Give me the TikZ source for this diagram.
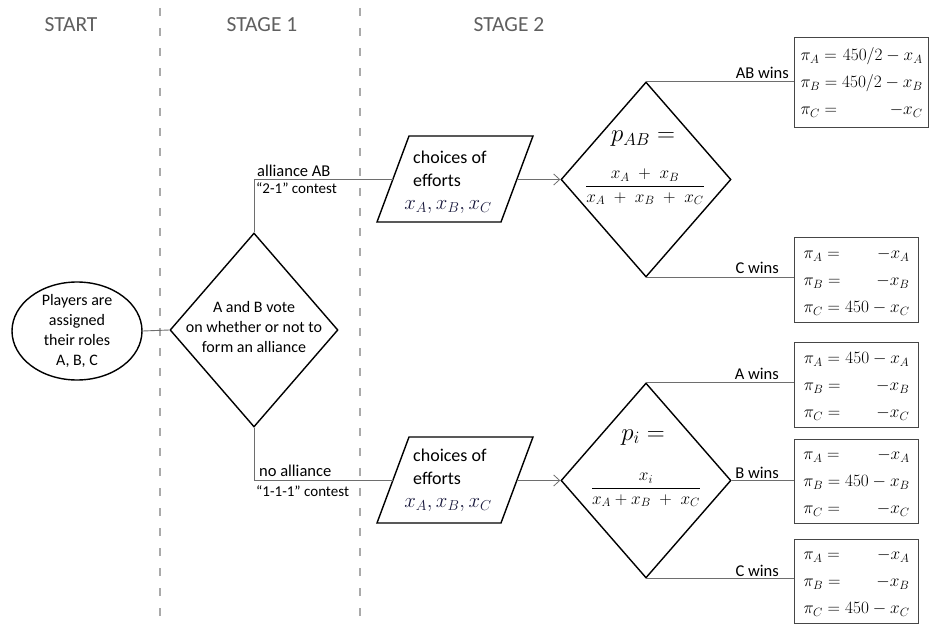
\documentclass[tikz,border=0pt]{standalone}
\usepackage{amsmath}
\usepackage{fontspec}
\setmainfont{Carlito}
\usetikzlibrary{shapes.geometric,arrows.meta}
\definecolor{stagegray}{RGB}{95,95,95}
\definecolor{dashgray}{RGB}{170,170,170}
\definecolor{linegray}{RGB}{110,110,110}
\definecolor{boxgray}{RGB}{70,70,70}
\definecolor{mathnavy}{RGB}{25,25,60}
\begin{document}
\begin{tikzpicture}[x=1pt,y=-1pt,
 stagelbl/.style={text=stagegray,font=\fontsize{21.5}{25}\selectfont,inner sep=0pt,anchor=base},
 divider/.style={draw=dashgray,line width=1.3pt,dash pattern=on 8pt off 12pt},
 outline/.style={draw=black,line width=1.4pt},
 conn/.style={draw=linegray,line width=0.9pt},
 arr/.style={conn,-{Straight Barb[length=6pt,width=11pt,line width=0.8pt]}},
 bodytxt/.style={font=\fontsize{16}{20}\selectfont,align=center,inner sep=0pt},
 partxt/.style={font=\fontsize{18}{23}\selectfont,inner sep=0pt,anchor=base west},
 edgelbl/.style={font=\fontsize{16.5}{19}\selectfont,inner sep=0pt},
 smalllbl/.style={font=\fontsize{15}{17}\selectfont,inner sep=0pt},
 paybox/.style={draw=boxgray,line width=1.1pt,inner xsep=6pt,inner ysep=0pt,anchor=north west,font=\fontsize{18}{27}\selectfont},
 decision/.style={diamond,outline,inner sep=0pt,minimum width=170,minimum height=195},
 parmath/.style={anchor=base,font=\fontsize{20}{24}\selectfont,text=mathnavy,inner sep=0pt},
 bigmath/.style={anchor=base,font=\fontsize{24}{28}\selectfont,inner sep=0pt},
 fracmath/.style={anchor=base,font=\fontsize{17}{20}\selectfont,inner sep=0pt}
]
\useasboundingbox (0,0) rectangle (938,626);
\clip (0,0) rectangle (938,626);

% stage headers and dividers
\node[stagelbl] (st0) at (71,32) {START};
\node[stagelbl] (st1) at (262,32) {STAGE 1};
\node[stagelbl] (st2) at (509,32) {STAGE 2};
\draw[divider] (160,8) -- (160,626);
\draw[divider] (360,8) -- (360,626);

% start
\node[ellipse,outline,minimum width=130,minimum height=98,inner sep=0pt] (start) at (77,331) {};
\node[bodytxt] (starttxt) at (77,331) {Players are\\assigned\\their roles\\A, B, C};

% stage 1 vote
\node[decision,minimum width=168,minimum height=194] (vote) at (254,330) {};
\node[bodytxt] (votetxt) at (254,327) {A and B vote\\on whether or not to\\form an alliance};

% parallelograms
\draw[outline] (377,222) -- (409,136) -- (533,136) -- (501,222) -- cycle;
\coordinate (par1w) at (393,179.5);
\coordinate (par1e) at (517,179.5);
\node[partxt] (par1a) at (413,163) {choices of};
\node[partxt] (par1b) at (413,186) {efforts};
\node[parmath] (par1m) at (448,209) {$x_A, x_B, x_C$};

\draw[outline] (377,523) -- (409,437) -- (533,437) -- (501,523) -- cycle;
\coordinate (par2w) at (393,480.5);
\coordinate (par2e) at (517,480.5);
\node[partxt] (par2a) at (413,461) {choices of};
\node[partxt] (par2b) at (413,484) {efforts};
\node[parmath] (par2m) at (448,507) {$x_A, x_B, x_C$};

% stage 2 decisions
\node[decision] (pab) at (646,179.5) {};
\node[bigmath] (pabeq) at (643,142) {$p_{AB} =$};
\node[fracmath] (pabfrac) at (645,190.5) {$\dfrac{x_A \;+\; x_B}{x_A \;+\; x_B \;+\; x_C}$};

\node[decision] (pi) at (646,480.5) {};
\node[bigmath] (pieq) at (643,440) {$p_i =$};
\node[fracmath] (pifrac) at (646,492.3) {$\dfrac{x_i}{x_A + x_B \;+\; x_C}$};

% payoff boxes
\node[paybox,minimum height=90] (ab1) at (794,37)
 {$\begin{array}{@{}l@{}r@{}}\pi_A ={} & 450/2-x_A\\ \pi_B ={} & 450/2-x_B\\ \pi_C ={} & -x_C\end{array}$};
\node[paybox,minimum width=124,minimum height=85] (ab2) at (794,237)
 {$\begin{array}{@{}l@{}r@{}}\pi_A ={} & -x_A\\ \pi_B ={} & -x_B\\ \pi_C ={} & 450-x_C\end{array}$};
\node[paybox,minimum width=124,minimum height=85] (c1) at (794,342)
 {$\begin{array}{@{}l@{}r@{}}\pi_A ={} & 450-x_A\\ \pi_B ={} & -x_B\\ \pi_C ={} & -x_C\end{array}$};
\node[paybox,minimum width=124,minimum height=84] (c2) at (794,439)
 {$\begin{array}{@{}l@{}r@{}}\pi_A ={} & -x_A\\ \pi_B ={} & 450-x_B\\ \pi_C ={} & -x_C\end{array}$};
\node[paybox,minimum width=124,minimum height=84] (c3) at (794,539)
 {$\begin{array}{@{}l@{}r@{}}\pi_A ={} & -x_A\\ \pi_B ={} & -x_B\\ \pi_C ={} & 450-x_C\end{array}$};

% connectors
\draw[conn] (start.east) -- (vote.west);
\draw[conn] (vote.north) |- (par1w);
\draw[conn] (vote.south) |- (par2w);
\draw[arr] (par1e) -- (pab.west);
\draw[arr] (par2e) -- (pi.west);
\draw[conn] (pab.north) -- (pab.north -| ab1.west);
\draw[conn] (pab.south) -- (pab.south -| ab2.west);
\draw[conn] (pi.north) -- (pi.north -| c1.west);
\draw[conn] (pi.east) -- (pi.east -| c2.west);
\draw[conn] (pi.south) -- (pi.south -| c3.west);

% labels
\node[edgelbl,anchor=base west] (labAll) at (257,176) {alliance AB};
\node[smalllbl,anchor=base west] (lab21) at (256,193) {“2-1” contest};
\node[edgelbl,anchor=base west] (labNo) at (259,476) {no alliance};
\node[smalllbl,anchor=base west] (lab111) at (256,496) {“1-1-1” contest};
\node[edgelbl,anchor=base east] (labAB) at (789,78) {AB wins};
\node[edgelbl,anchor=base east] (labC1) at (779,273) {C wins};
\node[edgelbl,anchor=base east] (labA) at (779,379) {A wins};
\node[edgelbl,anchor=base east] (labB) at (779,478) {B wins};
\node[edgelbl,anchor=base east] (labC2) at (779,576) {C wins};
\end{tikzpicture}
\end{document}
